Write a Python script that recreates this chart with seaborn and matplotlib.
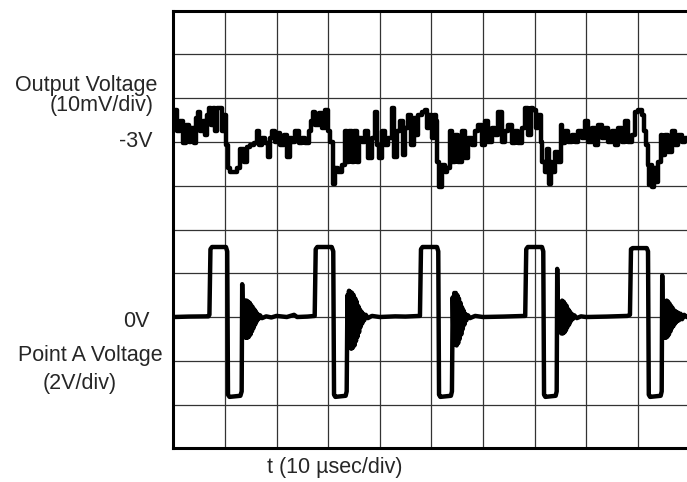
import numpy as np
import pandas as pd
import matplotlib
matplotlib.use("Agg")
import matplotlib.pyplot as plt
import seaborn as sns

# output voltage trace: time (usec) and deviation from -3V (mV)
out_t_us = [0.0, 0.4, 1.0, 1.7, 2.2, 2.7, 3.3, 3.75, 4.15, 4.6, 5.05, 5.45, 5.9, 6.2,
            6.75, 7.2, 7.5, 7.85, 8.15, 8.8, 9.3, 9.65, 9.95, 10.4, 10.85, 11.25, 12.0,
            12.65, 13.3, 13.95, 14.6, 15.25, 15.9, 16.4, 16.85, 17.5, 18.15, 18.5, 18.8,
            19.45, 20.1, 20.4, 21.05, 21.7, 22.35, 22.7, 23.35, 24.0, 24.6, 25.25, 25.9,
            26.55, 26.9, 27.2, 27.85, 28.5, 29.15, 29.8, 30.1, 30.65, 31.1, 31.7,
            32.3, 32.95, 33.6, 33.9, 34.25, 34.9, 35.2, 35.85, 36.2, 36.8, 37.5, 38.1,
            38.75, 39.4, 39.7, 40.2, 40.7, 41.35, 42.0, 42.65, 42.95, 43.6, 44.25, 44.6,
            45.2, 45.85, 46.4, 46.8, 47.2, 47.8, 48.45, 49.1, 49.4, 49.75, 50.4, 50.7,
            51.05, 51.35, 51.7, 52.3, 52.85, 53.3, 53.95, 54.25, 54.9, 55.55, 56.2, 56.85,
            57.5, 58.15, 58.8, 59.45, 60.1, 60.7, 61.35, 62.0, 62.65, 63.3, 63.95, 64.6,
            65.25, 65.9, 66.55, 67.2, 67.85, 68.5, 69.0, 69.45, 70.1, 70.4, 71.05, 71.4,
            71.7, 72.2, 72.7, 73.0, 73.3, 73.65, 74.3, 74.95, 75.25, 75.6, 76.25, 76.9,
            77.5, 78.15, 78.8, 79.45, 80.1, 80.75, 81.4, 82.05, 82.7, 83.35, 84.0, 84.6,
            85.25, 85.9, 86.55, 87.2, 87.85, 88.5, 89.15, 89.8, 90.45, 91.1, 91.4, 91.75,
            92.05, 92.4, 92.7, 93.0, 93.35, 93.65, 94.3, 94.65, 94.95, 95.6, 96.25, 96.9,
            97.55, 98.2, 98.85, 99.5, 100.0]
out_mv = [6.2, 7.3, 2.4, 4.7, -0.3, 3.9, 0.1, 3.1, -0.3, 5.4, 6.9, 2.4, 4.7, 1.6,
          6.2, 7.7, 3.9, 7.7, 2.4, 7.7, 7.7, 2.4, 6.2, -0.7, -6.0, -6.8, -6.8,
          -6.0, -1.5, -4.5, -1.1, -0.7, -0.3, 2.4, -0.7, 0.8, -0.3, -3.4, 0.8,
          2.4, 0.1, 2.0, -0.7, 1.6, -3.4, 0.8, 0.1, 2.4, -0.3, 0.8, -0.3,
          2.4, 4.7, 6.9, 3.9, 6.6, 3.1, 7.3, 2.4, 0.1, -9.5, -6.0,
          -6.8, -5.3, 2.4, -4.5, 2.4, -4.5, 2.4, -4.5, 0.8, 0.1, 2.4, -3.7,
          0.8, 6.9, -0.7, -3.7, 2.4, -0.7, 0.8, 7.7, -3.4, 2.4, 4.7, -3.0,
          3.1, 6.2, -0.7, 5.4, 1.6, 6.2, 6.9, 7.3, 3.1, 6.2, 0.8, 6.2,
          4.7, -4.5, -10.2, -5.3, -6.8, -6.0, 2.4, -4.5, 1.6, -4.5, 2.4, -3.7,
          0.8, -0.7, 2.4, 3.9, -0.7, 4.7, 0.1, 3.1, 1.6, 6.9, 0.1, 2.4,
          3.9, -0.3, 2.4, -0.3, 3.1, 7.7, 1.6, 7.7, 7.3, 3.1, 6.2, 0.1,
          -4.5, -6.8, -1.5, -9.5, -4.5, -6.8, -2.2, -4.5, 3.9, -0.3, 2.4, 0.1,
          1.6, 0.1, 2.4, 0.8, 4.7, 0.1, 3.1, -0.7, 3.9, 0.8, 3.1, 0.1,
          2.4, -0.7, 3.1, 0.1, 4.7, 0.1, 1.6, 6.9, 7.3, 6.2, 2.4, -0.7,
          -5.3, -9.8, -5.3, -10.2, -6.0, -9.1, -4.5, 1.6, -3.0, 1.6, -2.2, 2.4,
          -0.7, 1.6, 0.1, 0.8, 0.5]

# point A trace: time (usec) and voltage (V)
pa_t_us = [0.0, 3.0, 6.8, 7.0,
           # pulse 1
           7.2, 7.5, 10.2, 10.45, 10.6, 10.9, 13.0, 13.25, 13.35,
           13.5, 13.6, 13.75, 13.9, 14.05, 14.2, 14.35, 14.5, 14.65, 14.8, 14.95, 15.1,
           15.25, 15.4, 15.55, 15.7, 15.85, 16.0, 16.15, 16.3, 16.5, 16.8, 17.2, 18.0,
           19.0, 20.0, 22.0, 23.4, 24.0, 26.0, 27.4,
           # pulse 2
           27.6, 27.9, 30.7, 31.0, 31.15, 31.4, 33.4, 33.6,
           33.75, 33.9, 34.05, 34.2, 34.35, 34.5, 34.65, 34.8, 34.95, 35.1, 35.25, 35.4,
           35.55, 35.7, 35.85, 36.0, 36.15, 36.3, 36.45, 36.6, 36.8, 37.0, 37.3, 37.7,
           38.5, 40.0, 43.0, 45.0, 47.8,
           # pulse 3
           48.0, 48.3, 51.1, 51.35, 51.5, 51.75, 53.8, 54.0,
           54.15, 54.3, 54.45, 54.6, 54.75, 54.9, 55.05, 55.2, 55.35, 55.5, 55.65, 55.8,
           55.95, 56.1, 56.25, 56.4, 56.6, 56.8, 57.1, 57.5, 58.5, 60.0, 64.0, 68.2,
           # pulse 4
           68.4, 68.7, 71.45, 71.7, 71.85, 72.1, 74.1, 74.3, 74.4, 74.5, 74.6,
           74.75, 74.9, 75.05, 75.2, 75.35, 75.5, 75.65, 75.8, 75.95, 76.1, 76.25, 76.4,
           76.55, 76.7, 76.85, 77.0, 77.2, 77.4, 77.7, 78.2, 79.0, 80.0, 84.0, 88.0, 88.5,
           # pulse 5
           88.7, 89.0, 91.75, 92.0, 92.15, 92.4, 94.45, 94.65, 94.75, 94.85,
           95.0, 95.15, 95.3, 95.45, 95.6, 95.75, 95.9, 96.05, 96.2, 96.35, 96.5, 96.65,
           96.8, 96.95, 97.1, 97.25, 97.4, 97.6, 97.8, 98.0, 98.3, 98.6, 99.0, 99.5, 100.0]
pa_v = [0.0, 0.02, 0.03, 0.1,
        3.1, 3.2, 3.2, 3.0, -3.55, -3.65, -3.6, -3.4, 1.5,
        -0.55, 0.75, -0.85, 0.75, -0.95, 0.75, -0.95, 0.7, -0.9, 0.65, -0.8, 0.55,
        -0.65, 0.45, -0.5, 0.35, -0.35, 0.25, -0.2, 0.15, -0.1, 0.08, -0.05, 0.03,
        -0.02, 0.05, 0.0, 0.1, 0.0, 0.02, 0.05,
        3.1, 3.2, 3.2, 3.0, -3.55, -3.65, -3.6, -3.4,
        1.0, -1.2, 1.2, -1.4, 1.15, -1.45, 1.1, -1.4, 1.0, -1.3, 0.85, -1.1,
        0.7, -0.9, 0.5, -0.7, 0.35, -0.45, 0.25, -0.3, 0.15, -0.15, 0.1, -0.05,
        0.05, 0.0, 0.03, 0.02, 0.05,
        3.1, 3.2, 3.2, 3.0, -3.55, -3.65, -3.6, -3.4,
        0.9, -1.0, 1.1, -1.25, 1.1, -1.3, 1.0, -1.2, 0.85, -1.0, 0.65, -0.8,
        0.45, -0.55, 0.3, -0.35, 0.15, -0.15, 0.08, -0.05, 0.05, 0.0, 0.02, 0.05,
        3.1, 3.2, 3.2, 3.0, -3.55, -3.65, -3.6, -3.4, 2.2, 0.2, -0.3,
        0.4, -0.6, 0.65, -0.75, 0.75, -0.75, 0.7, -0.7, 0.6, -0.6, 0.5, -0.45,
        0.35, -0.35, 0.25, -0.2, 0.15, -0.1, 0.08, -0.05, 0.03, 0.0, 0.02, 0.05, 0.1,
        3.1, 3.15, 3.15, 3.0, -3.55, -3.65, -3.6, -3.4, 1.9, -0.8,
        0.5, -0.95, 0.7, -0.95, 0.75, -0.9, 0.7, -0.8, 0.6, -0.65, 0.5, -0.5,
        0.4, -0.4, 0.3, -0.3, 0.25, -0.2, 0.2, -0.15, 0.15, -0.1, 0.1, 0.0, 0.02]

out_df = pd.DataFrame({"t": out_t_us, "div": 7 + np.array(out_mv) / 10.0})   # 10 mV/div, -3V at div 7
pa_df = pd.DataFrame({"t": pa_t_us, "div": 3 + np.array(pa_v) / 2.0})        # 2 V/div, 0V at div 3

sns.set_style("white")
plt.rcParams["font.family"] = ["Liberation Sans", "DejaVu Sans"]

fig = plt.figure(figsize=(6.87, 4.82), dpi=100)
ax = fig.add_axes([173.3 / 687, (482 - 448.3) / 482, 516 / 687, 437.6 / 482])

# scope trace looks like sample-and-hold, so draw the output in steps
sns.lineplot(data=out_df, x="t", y="div", sort=False, estimator=None,
             color="black", lw=3.2, drawstyle="steps-mid", ax=ax)
sns.lineplot(data=pa_df, x="t", y="div", sort=False, estimator=None,
             color="black", lw=3.2, ax=ax)

ax.set_xlim(0, 100)
ax.set_ylim(0, 10)
ax.set_xticks(np.arange(0, 101, 10))
ax.set_yticks(np.arange(0, 11, 1))
ax.set_xticklabels([])
ax.set_yticklabels([])
ax.tick_params(length=0)
ax.set_xlabel("")
ax.set_ylabel("")
ax.grid(True, color="#333333", lw=0.9)
ax.set_axisbelow(True)
for s in ["left", "bottom", "top"]:
    ax.spines[s].set_color("black")
    ax.spines[s].set_linewidth(2.2)
ax.spines["right"].set_visible(False)

fs = 15.5
H = 482
fig.text(157 / 687, 1 - 85 / H, "Output Voltage", ha="right", va="center", fontsize=fs)
fig.text(153.5 / 687, 1 - 105 / H, "(10mV/div)", ha="right", va="center", fontsize=fs)
fig.text(152 / 687, 1 - 141.7 / H, "-3V", ha="right", va="center", fontsize=fs)
fig.text(150 / 687, 1 - 321.7 / H, "0V", ha="right", va="center", fontsize=fs)
fig.text(163 / 687, 1 - 355 / H, "Point A Voltage", ha="right", va="center", fontsize=fs)
fig.text(117 / 687, 1 - 383.3 / H, "(2V/div)", ha="right", va="center", fontsize=fs)
fig.text(335 / 687, 1 - 467 / H, "t (10 \u00b5sec/div)", ha="center", va="center", fontsize=fs)

fig.savefig("out.png", dpi=100)
